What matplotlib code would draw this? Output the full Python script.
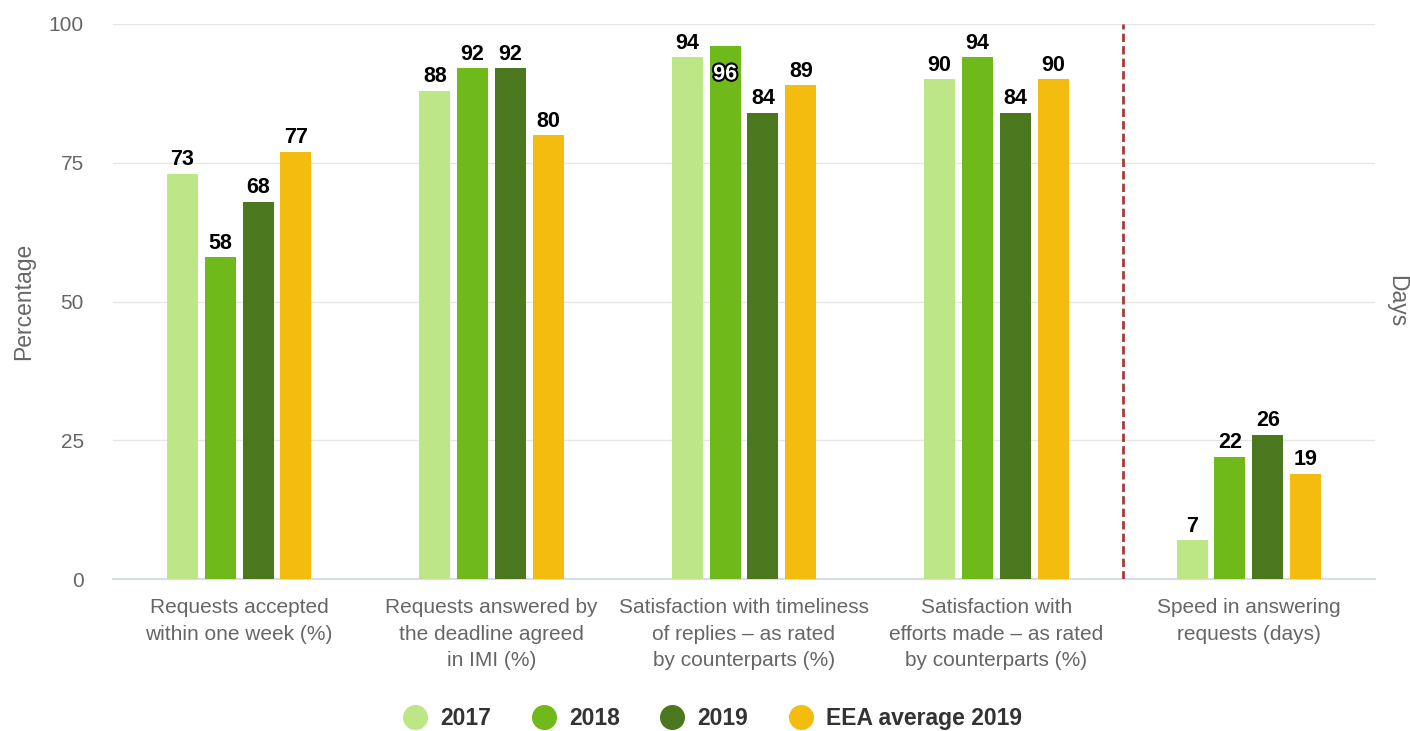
import numpy as np
import matplotlib.pyplot as plt
import matplotlib.patheffects as pe
from matplotlib.lines import Line2D

plt.rcParams['font.family'] = ['Liberation Sans', 'DejaVu Sans']

categories = [
    "Requests accepted\nwithin one week (%)",
    "Requests answered by\nthe deadline agreed\nin IMI (%)",
    "Satisfaction with timeliness\nof replies \u2013 as rated\nby counterparts (%)",
    "Satisfaction with\nefforts made \u2013 as rated\nby counterparts (%)",
    "Speed in answering\nrequests (days)",
]
series_names = ["2017", "2018", "2019", "EEA average 2019"]
v2017 = [73, 88, 94, 90, 7]
v2018 = [58, 92, 96, 94, 22]
v2019 = [68, 92, 84, 84, 26]
veea = [77, 80, 89, 90, 19]
y_ticks = [0, 25, 50, 75, 100]

colors = ["#bde686", "#70b91a", "#4b771e", "#f5bc10"]

fig = plt.figure(figsize=(14.1, 7.31), dpi=100)
ax = fig.add_axes([0.0801, 0.2079, 0.8951, 0.7593])

x = np.arange(len(categories))
width = 0.123
step = 0.15
values = [v2017, v2018, v2019, veea]

for i, (vals, c) in enumerate(zip(values, colors)):
    pos = x + (i - 1.5) * step
    ax.bar(pos, vals, width=width, color=c, zorder=3)
    for px, v in zip(pos, vals):
        if v >= 95:
            # label doesn't fit above, drawn inside the bar
            t = ax.annotate(str(v), (px, v), xytext=(0, -12.5), textcoords="offset points",
                            ha="center", va="top", fontsize=15.5, fontweight="bold",
                            color="white", zorder=5)
            t.set_path_effects([pe.withStroke(linewidth=3, foreground="black")])
        else:
            ax.annotate(str(v), (px, v), xytext=(0, 2.5), textcoords="offset points",
                        ha="center", va="bottom", fontsize=15.5, fontweight="bold",
                        color="black", zorder=5)

ax.set_xlim(-0.5, len(categories) - 0.5)
ax.set_ylim(0, 100)
ax.set_yticks(y_ticks)
ax.set_xticks(x)
ax.set_xticklabels(categories, fontsize=15, color="#666666", linespacing=1.5)
ax.tick_params(axis="y", length=0, pad=21, labelsize=15, labelcolor="#666666")
ax.tick_params(axis="x", length=0, pad=14)
ax.grid(axis="y", color="#e6e6e6", linewidth=1, zorder=0)
for s in ["top", "right", "left"]:
    ax.spines[s].set_visible(False)
ax.spines["bottom"].set_color("#ccd6eb")
ax.spines["bottom"].set_linewidth(1.2)
ax.set_ylabel("Percentage", fontsize=16.5, color="#666666", labelpad=10)

# separator between percentage and days groups
ax.axvline(3.5, color="#a83a3a", linestyle=(0, (3, 1.5)), linewidth=2, zorder=4)

ax2 = ax.twinx()
ax2.set_ylim(0, 100)
ax2.set_yticks([])
for s in ax2.spines.values():
    s.set_visible(False)
ax2.set_ylabel("Days", fontsize=16.5, color="#666666", rotation=270, labelpad=24)

handles = [Line2D([], [], marker="o", linestyle="", markersize=17, color=c) for c in colors]
leg = fig.legend(handles, series_names, loc="lower center", bbox_to_anchor=(0.5015, -0.027),
                 ncol=4, frameon=False, handletextpad=0.1, columnspacing=1.3,
                 prop={"size": 16.5, "weight": "bold"})
for t in leg.get_texts():
    t.set_color("#333333")

fig.savefig("out.png", dpi=100)
